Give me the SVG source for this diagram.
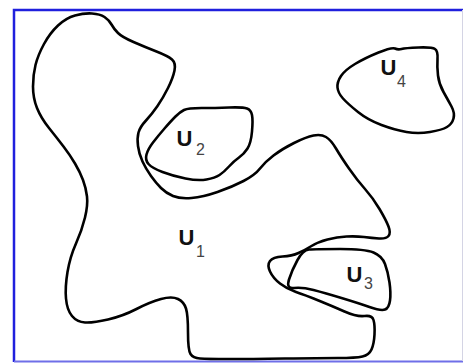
<svg xmlns="http://www.w3.org/2000/svg" width="465" height="363" viewBox="0 0 465 363">
<style>
.region{fill:none;stroke:#000;stroke-width:2.6;stroke-linejoin:round;stroke-linecap:round}
.lbl{font-family:"Liberation Sans",Arial,sans-serif;font-size:22px;font-weight:bold;fill:#111}
.sub{font-family:"Liberation Sans",Arial,sans-serif;font-size:16px;fill:#444}
</style>
<rect width="465" height="363" fill="#fff"/>
<g id="frame">
<path d="M14,362 V10 H463" fill="none" stroke="#2020dd" stroke-width="2.5"/>
<line x1="14" y1="361.5" x2="463" y2="361.5" stroke="#6f6fe8" stroke-width="2"/>
<line x1="462.5" y1="10" x2="462.5" y2="361" stroke="#d4d4e4" stroke-width="1"/>
</g>
<g id="U1">
<path class="region" d="M 75,15.5 Q 84,13 92,13.5 Q 100,14 104.5,17 Q 109,20 111.5,24.5 Q 114,29 118,33 Q 122,37 133.5,42 Q 145,47 156.5,51.5 Q 168,56 172,59.5 Q 176,63 174.5,70.5 Q 173,78 168,88 Q 163,98 157.5,106 Q 152,114 146,120.5 Q 140,127 138.5,132.5 Q 137,138 138,146 Q 139,154 142.5,161.5 Q 146,169 151,176 Q 156,183 161,188 Q 166,193 173,196 Q 180,199 191.5,198 Q 203,197 217.5,192 Q 232,187 243.5,181 Q 255,175 260,168.5 Q 265,162 273.5,155.5 Q 282,149 294,143 Q 306,137 313.5,135.5 Q 321,134 326,137 Q 331,140 336,148.5 Q 341,157 349,168.5 Q 357,180 365,189 Q 373,198 379.5,209 Q 386,220 388.5,226.5 Q 391,233 388.5,236 Q 386,239 379,238.5 Q 372,238 364,237 Q 356,236 346.5,236.5 Q 337,237 327.5,239.5 Q 318,242 311.5,246 Q 305,250 298.5,253 Q 292,256 282.5,256.5 Q 273,257 270,261 Q 267,265 270,271.5 Q 273,278 280,283.5 Q 287,289 296,292 Q 305,295 318.5,300.5 Q 332,306 344.5,311.5 Q 357,317 364.5,316 Q 372,315 373.5,320 Q 375,325 374.5,334.5 Q 374,344 371.5,349.5 Q 369,355 362.5,356.5 Q 356,358 338,358 Q 320,358 285,358.5 Q 250,359 228.5,359 Q 207,359 200,358.5 Q 193,358 190.5,354 Q 188,350 188,332.5 Q 188,315 186,308.5 Q 184,302 178,299 Q 172,296 161,299 Q 150,302 136.5,309 Q 123,316 108,319.5 Q 93,323 85,322.5 Q 77,322 72,316 Q 67,310 66,298.5 Q 65,287 67.5,272 Q 70,257 76,243.5 Q 82,230 85,217.5 Q 88,205 87,196.5 Q 86,188 83,180 Q 80,172 75,163.5 Q 70,155 63.5,146.5 Q 57,138 49,128 Q 41,118 37,108 Q 33,98 33,86.5 Q 33,75 35.5,65 Q 38,55 44,44 Q 50,33 58,25.5 Q 66,18 75,15.5 Z"/>
<text class="lbl" x="178.5" y="245">U</text><text class="sub" x="196" y="257">1</text>
</g>
<g id="U2">
<path class="region" d="M 175.5,116.5 Q 180,112 184,110 Q 188,108 201.5,108 Q 215,108 229,107.5 Q 243,107 247,108.5 Q 251,110 252,115 Q 253,120 252,131.5 Q 251,143 247.5,148.5 Q 244,154 239,157.5 Q 234,161 229,166.5 Q 224,172 219.5,175 Q 215,178 206.5,179.5 Q 198,181 185.5,178.5 Q 173,176 162.5,172 Q 152,168 148.5,164 Q 145,160 146.5,154.5 Q 148,149 153,142.5 Q 158,136 164.5,128.5 Q 171,121 175.5,116.5 Z"/>
<text class="lbl" x="176.5" y="146">U</text><text class="sub" x="196" y="155">2</text>
</g>
<g id="U3">
<path class="region" d="M 297.5,260 Q 303,250 309,249.5 Q 315,249 340,249 Q 365,249 373.5,252.5 Q 382,256 385,264 Q 388,272 389.5,282.5 Q 391,293 390,300.5 Q 389,308 385,309.5 Q 381,311 369.5,307 Q 358,303 341.5,298 Q 325,293 313.5,290 Q 302,287 294,288 Q 286,289 289,279.5 Q 292,270 297.5,260 Z"/>
<text class="lbl" x="346.5" y="282">U</text><text class="sub" x="364" y="289">3</text>
</g>
<g id="U4">
<path class="region" d="M 378.5,52.5 Q 392,47 395,48.5 Q 398,50 401.5,49 Q 405,48 418.5,47.5 Q 432,47 435,49 Q 438,51 437.5,59 Q 437,67 438,75.5 Q 439,84 443.5,92 Q 448,100 451.5,106.5 Q 455,113 453.5,118.5 Q 452,124 447,127 Q 442,130 430,132 Q 418,134 406.5,132 Q 395,130 381.5,125 Q 368,120 358,112 Q 348,104 343,98.5 Q 338,93 337.5,87.5 Q 337,82 341,76 Q 345,70 355,64 Q 365,58 378.5,52.5 Z"/>
<text class="lbl" x="380.5" y="75">U</text><text class="sub" x="397" y="87">4</text>
</g>
</svg>
